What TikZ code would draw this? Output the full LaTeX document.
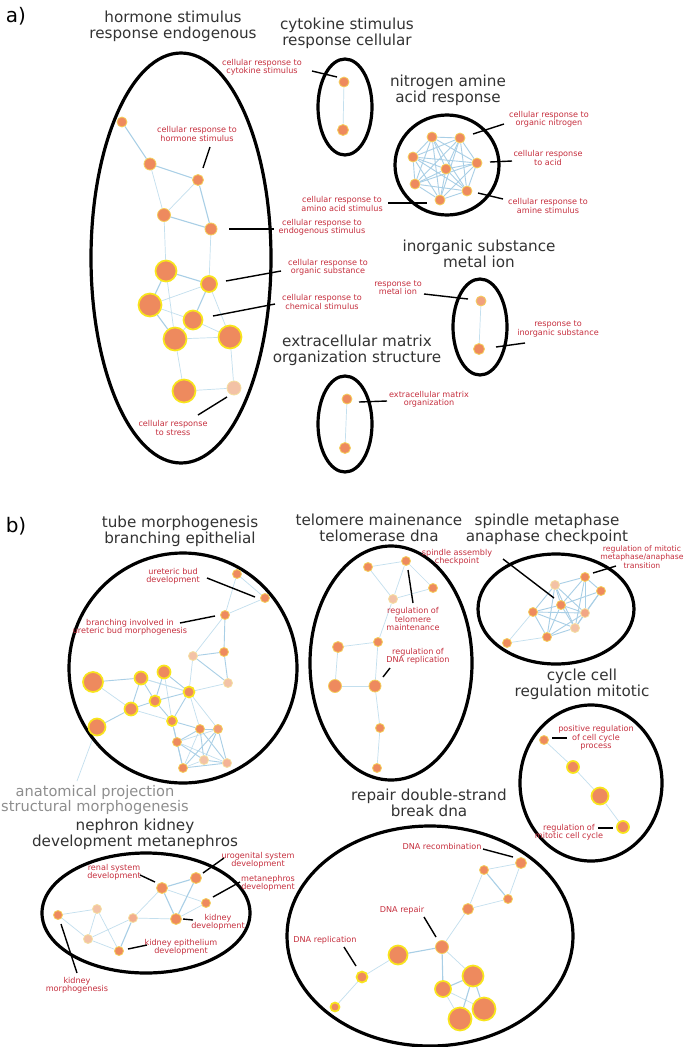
\documentclass[tikz,border=0pt]{standalone}
\usepackage{fontspec}
\setmainfont{DejaVu Sans}
\pgfdeclarelayer{bg}
\pgfsetlayers{bg,main}
\definecolor{nodeor}{HTML}{EE8A5E}
\definecolor{ringy}{HTML}{F5CF5A}
\definecolor{ringb}{HTML}{F8E51C}
\definecolor{pale}{HTML}{F3C2A6}
\definecolor{palering}{HTML}{F5DFA0}
\definecolor{edgec}{HTML}{C3DFEE}
\definecolor{edgedk}{HTML}{A9CFE6}
\definecolor{labc}{HTML}{C62F3E}
\definecolor{titlec}{HTML}{333333}
\definecolor{grayt}{HTML}{8E8E8E}
\tikzset{
  nd/.style={circle, fill=nodeor, draw=ringy, line width=0.8pt, inner sep=0pt, minimum size=#1},
  nb/.style={circle, fill=nodeor, draw=ringb, line width=1.7pt, inner sep=0pt, minimum size=#1},
  np/.style={circle, fill=pale, draw=palering, line width=0.8pt, inner sep=0pt, minimum size=#1},
  ed/.style={draw=edgec, line width=0.7pt},
  edk/.style={draw=edgedk, line width=1.1pt},
  lead/.style={draw=black, line width=1.4pt},
  clus/.style={draw=black, line width=3.2pt},
  ttl/.style={font=\fontsize{15.2}{16}\selectfont, text=titlec, align=center, inner sep=0pt},
  gttl/.style={font=\fontsize{14.6}{15.6}\selectfont, text=grayt, align=center, inner sep=0pt},
  lab/.style={font=\fontsize{8.1}{8.4}\selectfont, text=labc, align=center, inner sep=0pt},
  part/.style={font=\fontsize{20}{22}\selectfont, text=black, inner sep=0pt}
}
\begin{document}
\begin{tikzpicture}[x=1pt,y=-1pt]
\begin{pgfonlayer}{bg}
\fill[white] (0,0) rectangle (685,1047);
\end{pgfonlayer}
\useasboundingbox (0,0) rectangle (685,1047);

% ---------------- part a ----------------
\node[part] (pa) at (16,16) {a)};

\node[ttl] (Th) at (173,26) {hormone stimulus\\response endogenous};
\draw[clus] (181,258) ellipse [x radius=90, y radius=205];
\node[nd=10] (n1) at (122,122) {};
\node[nd=12] (n2) at (150,164) {};
\node[nd=11] (n3) at (198,180) {};
\node[nd=13] (n4) at (164,215) {};
\node[nd=12] (n5) at (211,229) {};
\node[nb=21] (n6) at (166,271) {};
\node[nb=16] (n7) at (209,284) {};
\node[nb=23] (n8) at (150,305) {};
\node[nb=19] (n9) at (193,320) {};
\node[nb=23] (n10) at (175,339) {};
\node[nb=23] (n11) at (230,337) {};
\node[nb=23] (n12) at (184,391) {};
\node[np=14] (n13) at (234,388) {};
\begin{pgfonlayer}{bg}
\foreach \a/\b in {n1/n2,n2/n3,n3/n5,n4/n5,n6/n7,n6/n8,n8/n10,n7/n9}
  \draw[edk] (\a) -- (\b);
\foreach \a/\b in {n2/n4,n3/n4,n4/n6,n5/n7,n6/n10,n7/n8,n8/n9,n9/n10,n9/n11,n10/n11,n7/n11,n10/n12,n11/n13,n12/n13}
  \draw[ed] (\a) -- (\b);
\end{pgfonlayer}

\node[lab] (Lhor) at (197,134) {cellular response to\\hormone stimulus};
\draw[lead] (210,147) coordinate (h1) -- (203,168) coordinate (h2);
\node[lab] (Lendo) at (322,227) {cellular response to\\endogenous stimulus};
\draw[lead] (229,229) coordinate (e1) -- (274,229) coordinate (e2);
\node[lab] (Lorg) at (328,267) {cellular response to\\organic substance};
\draw[lead] (226,281) coordinate (o1) -- (281,271) coordinate (o2);
\node[lab] (Lchem) at (322,302) {cellular response to\\chemical stimulus};
\draw[lead] (213,316) coordinate (c1) -- (275,304) coordinate (c2);
\node[lab] (Lstr) at (173,428) {cellular response\\to stress};
\draw[lead] (198,415) coordinate (s1) -- (227,397) coordinate (s2);

% cytokine
\node[ttl] (Tc) at (347,33) {cytokine stimulus\\response cellular};
\draw[clus] (345,107) ellipse [x radius=27, y radius=48];
\node[nd=10] (y1) at (344,82) {};
\node[nd=11] (y2) at (343,130) {};
\begin{pgfonlayer}{bg}\draw[ed] (y1) -- (y2);\end{pgfonlayer}
\node[lab] (Lcyt) at (262,67) {cellular response to\\cytokine stimulus};
\draw[lead] (312,71) coordinate (k1a) -- (337,77) coordinate (k1b);

% nitrogen
\node[ttl] (Tn) at (448,90) {nitrogen amine\\acid response};
\draw[clus] (447,165) ellipse [x radius=52, y radius=50];
\node[nd=10] (g1) at (432,137) {};
\node[nd=10] (g2) at (460,138) {};
\node[nd=10] (g3) at (413,157) {};
\node[nd=10] (g4) at (477,163) {};
\node[nd=10] (g5) at (446,169) {};
\node[nd=10] (g6) at (415,184) {};
\node[nd=10] (g7) at (467,191) {};
\node[nd=10] (g8) at (440,200) {};
\begin{pgfonlayer}{bg}
\foreach \a/\b in {g1/g2,g1/g3,g1/g4,g1/g5,g1/g6,g1/g7,g1/g8,g2/g3,g2/g4,g2/g5,g2/g6,g2/g7,g2/g8,g3/g4,g3/g5,g3/g6,g3/g7,g3/g8,g4/g5,g4/g6,g4/g7,g4/g8,g5/g6,g5/g7,g5/g8,g6/g7,g6/g8,g7/g8}
  \draw[edk, line width=0.9pt] (\a) -- (\b);
\end{pgfonlayer}
\node[lab] (Lon) at (549,119) {cellular response to\\organic nitrogen};
\draw[lead] (473,134) coordinate (on1) -- (504,124) coordinate (on2);
\node[lab] (Lac) at (548,158) {cellular response\\to acid};
\draw[lead] (490,162) coordinate (ac1) -- (512,161) coordinate (ac2);
\node[lab] (Lam) at (548,206) {cellular response to\\amine stimulus};
\draw[lead] (478,193) coordinate (am1) -- (503,199) coordinate (am2);
\node[lab] (Lamino) at (342,204) {cellular response to\\amino acid stimulus};
\draw[lead] (388,203) coordinate (ai1) -- (427,203) coordinate (ai2);

% inorganic
\node[ttl] (Ti) at (479,254) {inorganic substance\\metal ion};
\draw[clus] (480,327) ellipse [x radius=27, y radius=48];
\node[nd=10, fill=nodeor!80!white] (i1) at (481,301) {};
\node[nd=11] (i2) at (479,349) {};
\begin{pgfonlayer}{bg}\draw[ed] (i1) -- (i2);\end{pgfonlayer}
\node[lab] (Lmet) at (398,288) {response to\\metal ion};
\draw[lead] (424,294) coordinate (mt1) -- (468,299) coordinate (mt2);
\node[lab] (Lino) at (558,329) {response to\\inorganic substance};
\draw[lead] (496,347) coordinate (io1) -- (525,343) coordinate (io2);

% extracellular
\node[ttl] (Tx) at (357,350) {extracellular matrix\\organization structure};
\draw[clus] (345,424) ellipse [x radius=27, y radius=48];
\node[nd=10] (x1) at (347,399) {};
\node[nd=11] (x2) at (345,448) {};
\begin{pgfonlayer}{bg}\draw[ed] (x1) -- (x2);\end{pgfonlayer}
\node[lab] (Lecm) at (429,399) {extracellular matrix\\organization};
\draw[lead] (359,402) coordinate (ec1) -- (387,401) coordinate (ec2);

% ---------------- part b ----------------
\node[part] (pb) at (16,526) {b)};

% tube morphogenesis
\node[ttl] (Tt) at (180,531) {tube morphogenesis\\branching epithelial};
\draw[clus] (183,668) ellipse [x radius=114, y radius=115];
\node[nd=9] (t1) at (237,574) {};
\node[nd=9] (t2) at (265,598) {};
\node[nd=9] (t3) at (225,615) {};
\node[np=9] (t4) at (193,656) {};
\node[nd=9] (t5) at (224,652) {};
\node[np=9] (t6) at (228,683) {};
\node[nb=20] (t7) at (93,682) {};
\node[nb=13] (t8) at (141,678) {};
\node[nb=13] (t9) at (164,672) {};
\node[nb=11] (t10) at (189,692) {};
\node[nb=11] (t11) at (155,701) {};
\node[nb=13] (t12) at (131,709) {};
\node[nb=17] (t13) at (97,727) {};
\node[nb=10] (t14) at (172,721) {};
\node[nd=9] (t15) at (200,729) {};
\node[nd=9, fill=nodeor!85!white] (t16) at (218,729) {};
\node[nd=9] (t17) at (177,742) {};
\node[np=9] (t18) at (204,760) {};
\node[np=9, fill=nodeor!65!white] (t19) at (227,763) {};
\node[nd=9] (t20) at (183,768) {};
\coordinate (anc) at (77,781);
\begin{pgfonlayer}{bg}
\foreach \a/\b in {t1/t2,t1/t3,t2/t3,t3/t4,t4/t10,t10/t6,t10/t8,t10/t15,t10/t16,t8/t10,t7/t12,t12/t14,t9/t14,t15/t20,t16/t17,t17/t19,t18/t20}
  \draw[ed] (\a) -- (\b);
\foreach \a/\b in {t3/t5,t4/t5,t4/t6,t5/t6,t10/t9,t10/t11,t10/t14,t8/t11,t8/t12,t7/t8,t9/t11,t11/t12,t11/t14,t12/t13,t14/t15,t14/t17,t14/t20,t15/t16,t15/t17,t15/t18,t15/t19,t16/t18,t16/t19,t16/t20,t17/t20,t17/t18,t18/t19,t19/t20}
  \draw[edk, line width=0.9pt] (\a) -- (\b);
\draw[ed] (t13) -- (anc);
\end{pgfonlayer}
\node[lab] (Lub) at (173,576) {ureteric bud\\development};
\draw[lead] (207,578) coordinate (ub1) -- (255,597) coordinate (ub2);
\node[lab] (Lbr) at (130,627) {branching involved in\\ureteric bud morphogenesis};
\draw[lead] (180,623) coordinate (br1) -- (215,616) coordinate (br2);
\node[gttl] (Tan) at (95,800) {anatomical projection\\structural morphogenesis};

% telomere
\node[ttl] (Tl) at (379,528) {telomere mainenance\\telomerase dna};
\draw[clus] (391,663) ellipse [x radius=81, y radius=117];
\node[nd=9] (m1) at (368,567) {};
\node[nd=9] (m2) at (406,561) {};
\node[nd=9] (m3) at (433,588) {};
\node[np=9] (m4) at (393,599) {};
\node[nd=9] (m5) at (378,642) {};
\node[nd=11] (m6) at (338,647) {};
\node[nd=13] (m7) at (335,686) {};
\node[nd=12] (m8) at (375,686) {};
\node[nd=9] (m9) at (380,728) {};
\node[nd=9] (m10) at (377,768) {};
\begin{pgfonlayer}{bg}
\foreach \a/\b in {m1/m2,m1/m4,m2/m4,m2/m3,m4/m3,m4/m5,m5/m6,m5/m8,m6/m7,m7/m8,m8/m9,m9/m10}
  \draw[ed] (\a) -- (\b);
\end{pgfonlayer}
\node[lab] (Ltel) at (413,619) {regulation of\\telomere\\maintenance};
\draw[lead] (408,570) coordinate (tl1) -- (413,603) coordinate (tl2);
\node[lab] (Ldna) at (418,656) {regulation of\\DNA replication};
\draw[lead] (390,668) coordinate (dn1) -- (383,677) coordinate (dn2);

% spindle
\node[ttl] (Ts) at (547,529) {spindle metaphase\\anaphase checkpoint};
\draw[clus] (556,609) ellipse [x radius=78, y radius=55];
\node[nd=9] (s1) at (585,577) {};
\node[nd=9] (s2) at (601,591) {};
\node[np=9] (s3) at (555,585) {};
\node[nd=9] (s4) at (561,605) {};
\node[nd=9] (s5) at (533,612) {};
\node[np=9, fill=nodeor!75!white] (s6) at (585,613) {};
\node[np=9] (s7) at (575,628) {};
\node[nd=9] (s8) at (547,637) {};
\node[nd=9] (s9) at (507,643) {};
\begin{pgfonlayer}{bg}
\foreach \a/\b in {s1/s2,s1/s3,s1/s4,s1/s6,s1/s7,s2/s6,s2/s7,s2/s4,s3/s4,s3/s5,s3/s6,s3/s7,s3/s8,s4/s5,s4/s6,s4/s7,s4/s8,s5/s6,s5/s7,s5/s8,s6/s7,s6/s8,s7/s8}
  \draw[edk, line width=0.9pt] (\a) -- (\b);
\foreach \a/\b in {s5/s9,s8/s9}
  \draw[ed] (\a) -- (\b);
\end{pgfonlayer}
\node[lab] (Lsa) at (457,557) {spindle assembly\\checkpoint};
\draw[lead] (503,559) coordinate (sa1) -- (554,598) coordinate (sa2);
\node[lab, font=\fontsize{7.7}{8.2}\selectfont] (Lmit) at (642,557) {regulation of mitotic\\metaphase/anaphase\\transition};
\draw[lead] (593,573) coordinate (mi1) -- (616,566) coordinate (mi2);

% cycle cell
\node[ttl] (Tcy) at (582,684) {cycle cell\\regulation mitotic};
\draw[clus] (591,783) ellipse [x radius=71, y radius=78];
\node[nd=9] (c1n) at (544,740) {};
\node[nb=12] (c2n) at (573,767) {};
\node[nb=17] (c3n) at (600,796) {};
\node[nb=12] (c4n) at (623,827) {};
\begin{pgfonlayer}{bg}
\foreach \a/\b in {c1n/c2n,c2n/c3n,c3n/c4n}
  \draw[ed] (\a) -- (\b);
\end{pgfonlayer}
\node[lab] (Lpos) at (596,738) {positive regulation\\of cell cycle\\process};
\draw[lead] (552,738) coordinate (ps1) -- (567,738) coordinate (ps2);
\node[lab] (Lrmc) at (569,832) {regulation of\\mitotic cell cycle};
\draw[lead] (598,828) coordinate (rm1) -- (613,828) coordinate (rm2);

% nephron
\node[ttl] (Tk) at (135,834) {nephron kidney\\development metanephros};
\draw[clus] (146,913) ellipse [x radius=104, y radius=60];
\node[nd=9] (k1) at (58,915) {};
\node[np=9] (k2) at (97,909) {};
\node[np=9] (k3) at (88,939) {};
\node[nd=9] (k4) at (119,951) {};
\node[np=9, fill=nodeor!70!white] (k5) at (133,918) {};
\node[nd=11] (k6) at (162,888) {};
\node[nd=11] (k7) at (196,878) {};
\node[nd=9] (k8) at (206,903) {};
\node[nd=11] (k9) at (176,919) {};
\begin{pgfonlayer}{bg}
\foreach \a/\b in {k1/k2,k1/k3,k2/k3,k3/k4,k2/k4,k5/k9,k6/k5,k6/k8,k3/k5,k9/k8}
  \draw[ed] (\a) -- (\b);
\foreach \a/\b in {k4/k5,k6/k7,k6/k9,k7/k9}
  \draw[edk] (\a) -- (\b);
\end{pgfonlayer}
\node[lab] (Lren) at (114,872) {renal system\\development};
\draw[lead] (140,875) coordinate (rn1) -- (155,882) coordinate (rn2);
\node[lab] (Luro) at (258,860) {urogenital system\\development};
\draw[lead] (203,873) coordinate (ur1) -- (224,858) coordinate (ur2);
\node[lab] (Lmeta) at (268,883) {metanephros\\development};
\draw[lead] (213,897) coordinate (me1) -- (240,882) coordinate (me2);
\node[lab] (Lkd) at (218,922) {kidney\\development};
\draw[lead] (183,919) coordinate (kd1) -- (193,920) coordinate (kd2);
\node[lab] (Lke) at (181,947) {kidney epithelium\\development};
\draw[lead] (128,949) coordinate (ke1) -- (147,945) coordinate (ke2);
\node[lab] (Lkm) at (77,985) {kidney\\morphogenesis};
\draw[lead] (61,924) coordinate (km1) -- (77,973) coordinate (km2);

% repair
\node[ttl] (Tr) at (429,803) {repair double-strand\\break dna};
\draw[clus] (430,936) ellipse [x radius=143, y radius=110];
\node[nd=11] (r1) at (521,863) {};
\node[nd=9] (r2) at (484,870) {};
\node[nd=9] (r3) at (508,899) {};
\node[nd=11] (r4) at (468,909) {};
\node[nd=13] (r5) at (442,947) {};
\node[nb=19] (r6) at (398,955) {};
\node[nb=11] (r7) at (362,977) {};
\node[nb=9] (r8) at (335,1007) {};
\node[nb=21] (r9) at (473,976) {};
\node[nb=16] (r10) at (443,989) {};
\node[nb=23] (r11) at (484,1009) {};
\node[nb=23] (r12) at (460,1019) {};
\begin{pgfonlayer}{bg}
\foreach \a/\b in {r1/r2,r1/r3,r2/r4,r3/r4,r4/r5,r6/r7,r7/r8,r5/r9,r10/r11,r10/r12}
  \draw[ed] (\a) -- (\b);
\foreach \a/\b in {r2/r3,r5/r6,r5/r10,r9/r10,r9/r11,r9/r12}
  \draw[edk] (\a) -- (\b);
\end{pgfonlayer}
\node[lab] (Lrec) at (442,846) {DNA recombination};
\draw[lead] (483,849) coordinate (rc1) -- (513,857) coordinate (rc2);
\node[lab] (Lrep) at (402,910) {DNA repair};
\draw[lead] (424,917) coordinate (rp1) -- (436,937) coordinate (rp2);
\node[lab] (Lrepl) at (325,940) {DNA replication};
\draw[lead] (344,947) coordinate (rl1) -- (356,966) coordinate (rl2);
\end{tikzpicture}
\end{document}
